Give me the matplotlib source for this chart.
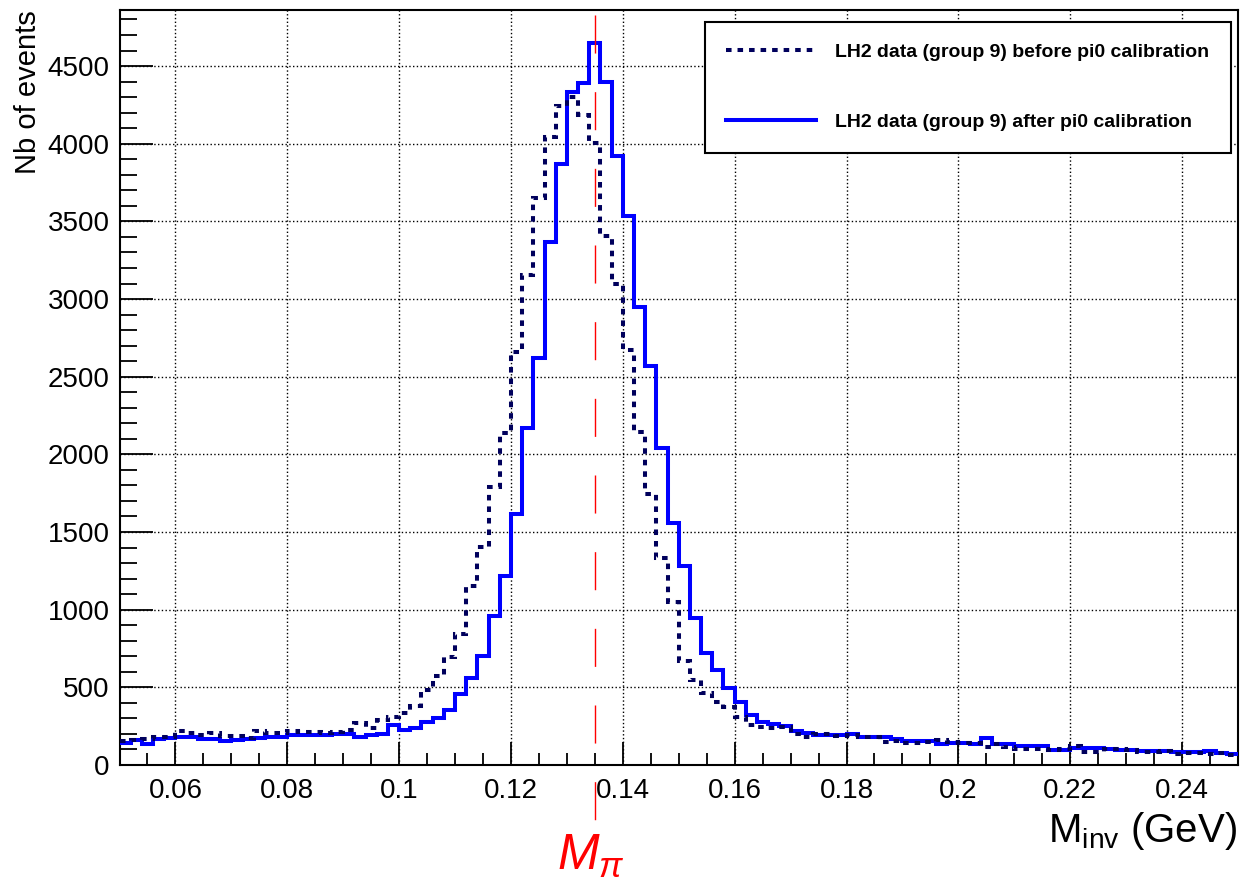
import matplotlib
matplotlib.use('Agg')
import matplotlib.pyplot as plt
import numpy as np
from matplotlib.ticker import MultipleLocator, FuncFormatter

plt.rcParams['font.family'] = ['Liberation Sans', 'DejaVu Sans']
plt.rcParams['mathtext.fontset'] = 'custom'
plt.rcParams['mathtext.rm'] = 'Liberation Sans'
plt.rcParams['mathtext.it'] = 'Liberation Sans:italic'
plt.rcParams['lines.scale_dashes'] = False

# invariant mass window, 2 MeV bins
x_min, x_max, n_bins = 0.05, 0.25, 100
edges = np.linspace(x_min, x_max, n_bins + 1)

# LH2 group 9, before the pi0 calibration
counts_before = [
    155, 160, 165, 182, 182, 221, 204, 190, 204, 187,
    185, 176, 222, 205, 205, 222, 212, 215, 205, 215,
    225, 268, 236, 290, 311, 333, 380, 483, 573, 693,
    843, 1155, 1402, 1792, 2136, 2661, 3155, 3649, 4042, 4243,
    4299, 4185, 4003, 3406, 3095, 2672, 2146, 1745, 1331, 1052,
    672, 547, 462, 408, 376, 310, 258, 243, 236, 243,
    197, 182, 200, 200, 187, 193, 182, 178, 150, 155,
    144, 144, 150, 161, 150, 140, 144, 118, 133, 114,
    101, 101, 101, 97, 101, 122, 86, 86, 101, 101,
    97, 82, 86, 92, 71, 80, 80, 69, 75, 64,
]

# same data after the pi0 calibration
counts_after = [
    140, 160, 135, 170, 172, 182, 182, 165, 165, 156,
    160, 165, 175, 180, 182, 195, 195, 193, 193, 200,
    200, 182, 190, 200, 255, 225, 238, 277, 300, 354,
    456, 558, 700, 959, 1219, 1616, 2168, 2619, 3370, 3870,
    4336, 4389, 4647, 4400, 3921, 3535, 2947, 2569, 2039, 1560,
    1281, 944, 723, 612, 496, 406, 325, 279, 264, 251,
    221, 204, 193, 193, 193, 200, 182, 182, 182, 165,
    155, 155, 155, 133, 142, 140, 133, 172, 135, 135,
    122, 122, 122, 97, 97, 112, 112, 108, 101, 97,
    97, 92, 92, 92, 82, 82, 82, 92, 80, 69,
]

m_pi0 = 0.135
y_top = 4861

W, H = 1242, 889
fig = plt.figure(figsize=(W / 100, H / 100), dpi=100)
ax = fig.add_axes([119.5 / W, (H - 765) / H, 1118.5 / W, 755 / H])

h_after = ax.stairs(counts_after, edges, baseline=None, color='#0000ff',
                    lw=2.9, zorder=3,
                    label='LH2 data (group 9) after pi0 calibration')
h_before = ax.stairs(counts_before, edges, baseline=None, color='#00005c',
                     lw=2.9, linestyle=(0, (4.0, 4.3)), zorder=4,
                     label='LH2 data (group 9) before pi0 calibration')

ax.set_xlim(x_min, x_max)
ax.set_ylim(0, y_top)

# pi0 mass marker, runs down past the axis to the label
px = 755 / y_top
ax.plot([m_pi0, m_pi0], [(765 - 15) / px, (765 - 822) / px], color='red',
        lw=1.0, linestyle=(0, (27.4, 27.8)), clip_on=False, zorder=5)
ax.text(m_pi0 - 0.0008, (765 - 870) / px, r'$M_{\pi}$', color='red',
        fontsize=36, ha='center', va='baseline', clip_on=False)

ax.xaxis.set_major_locator(MultipleLocator(0.02))
ax.xaxis.set_minor_locator(MultipleLocator(0.005))
ax.yaxis.set_major_locator(MultipleLocator(500))
ax.yaxis.set_minor_locator(MultipleLocator(100))
ax.xaxis.set_major_formatter(FuncFormatter(lambda v, p: '%g' % round(v, 3)))

ax.tick_params(axis='both', which='both', direction='in', width=1.3,
               colors='black', labelsize=20, top=False, right=False)
ax.tick_params(axis='x', which='major', length=16.5, pad=9)
ax.tick_params(axis='x', which='minor', length=8.3)
ax.tick_params(axis='y', which='major', length=23.8, pad=7)
ax.tick_params(axis='y', which='minor', length=11.9)

for s in ax.spines.values():
    s.set_linewidth(1.5)

ax.grid(True, which='major', color='black', lw=1.0, linestyle=(0, (1, 1.7)))
ax.set_axisbelow(True)

ax.set_ylabel('Nb of events', fontsize=21, loc='top')
ax.yaxis.set_label_coords((42 - 119.5) / 1118.5, 1.0)
ax.set_xlabel(r'M$_{\mathrm{inv}}$ (GeV)', fontsize=29, loc='right')
ax.xaxis.set_label_coords((1237 - 119.5) / 1118.5, (765 - 810) / 755)

leg = ax.legend(handles=[h_before, h_after], loc='upper left',
                bbox_to_anchor=((705 - 119.5) / 1118.5, (765 - 22) / 755),
                borderaxespad=0, fancybox=False, framealpha=1,
                edgecolor='black', prop={'weight': 'bold', 'size': 14},
                handlelength=4.6, handletextpad=1.0, labelspacing=2.7,
                borderpad=1.1)
leg.get_frame().set_linewidth(1.5)

fig.savefig('out.png', dpi=100)
